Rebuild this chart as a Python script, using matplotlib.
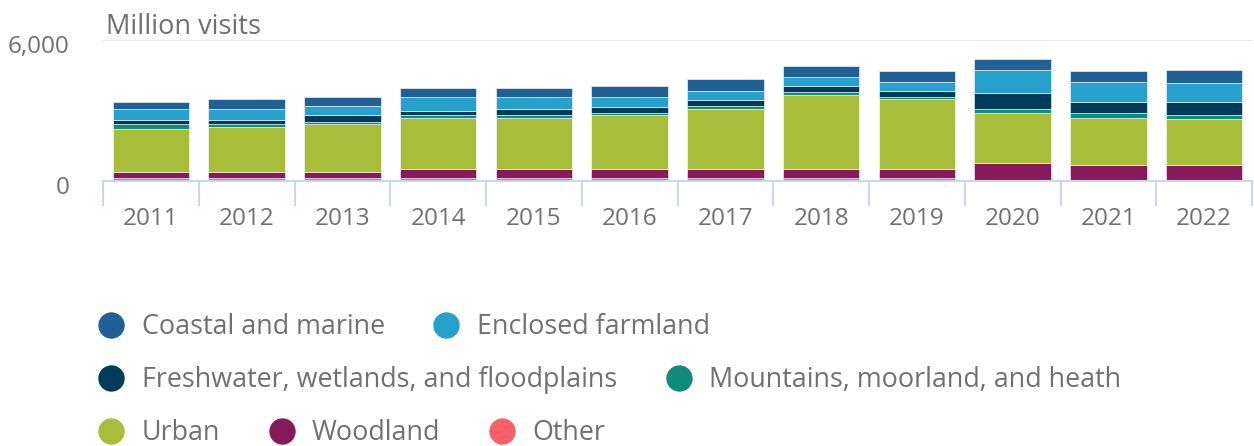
import matplotlib
matplotlib.use("Agg")
import matplotlib.pyplot as plt
import matplotlib.transforms as mtransforms
from matplotlib.lines import Line2D
import numpy as np

plt.rcParams['font.family'] = ['Open Sans', 'DejaVu Sans']

years = ["2011", "2012", "2013", "2014", "2015", "2016",
         "2017", "2018", "2019", "2020", "2021", "2022"]

# values in million visits, bottom to top of stack
other      = [130, 130, 130, 130, 130, 130, 130, 130, 130, 10, 10, 10]
woodland   = [270, 270, 270, 370, 370, 370, 370, 370, 370, 770, 680, 680]
urban      = [1820, 1900, 2020, 2190, 2190, 2305, 2560, 3160, 2975, 2120, 2005, 1940]
mountains  = [200, 115, 85, 130, 130, 100, 130, 115, 100, 185, 200, 185]
freshwater = [170, 170, 285, 160, 255, 255, 270, 270, 270, 655, 470, 555]
enclosed   = [470, 470, 400, 600, 500, 430, 385, 385, 370, 980, 855, 785]
coastal    = [310, 415, 370, 370, 370, 455, 485, 470, 480, 470, 480, 555]

series_names = ["Coastal and marine", "Enclosed farmland",
                "Freshwater, wetlands, and floodplains",
                "Mountains, moorland, and heath", "Urban", "Woodland", "Other"]
series_values = [coastal, enclosed, freshwater, mountains, urban, woodland, other]
series_colors = ["#206095", "#27a0cc", "#003c57", "#118c7b",
                 "#a8bd3a", "#871a5b", "#f66068"]

legend_rows = [[0, 1], [2, 3], [4, 5, 6]]

TEXT = "#707070"
AXIS = "#ccd6eb"
GRID = "#e6e6e6"

W, H = 1254, 446
fig = plt.figure(figsize=(W / 100, H / 100), dpi=100)

x0, x1 = 103, 1252
ybase, ytop = 181, 40
ax = fig.add_axes([x0 / W, 1 - ybase / H, (x1 - x0) / W, (ybase - ytop) / H])

x = np.arange(len(years))
bottom = np.zeros(len(years))
# draw from the bottom of stack (Other) upward
for name, vals, col in reversed(list(zip(series_names, series_values, series_colors))):
    v = np.array(vals, dtype=float)
    ax.bar(x, v, bottom=bottom, width=0.8, color=col, edgecolor="white",
           linewidth=0.4, zorder=3)
    bottom += v

ax.set_xlim(-0.5, len(years) - 0.5)
ax.set_ylim(0, 6000)

ax.set_yticks([0, 6000])
ax.set_yticklabels(["0", "6,000"])
ax.yaxis.grid(True, color=GRID, linewidth=1.5, zorder=0)
ax.set_axisbelow(True)

ax.set_xticks(x)
ax.set_xticklabels(years)
ax.set_xticks(np.arange(-0.5, len(years)), minor=True)
ax.tick_params(axis="x", which="major", length=0, pad=19, labelsize=17.5, labelcolor=TEXT)
ax.tick_params(axis="x", which="minor", length=18, width=1.5, color=AXIS, direction="out")
ax.tick_params(axis="y", which="both", length=0, pad=24, labelsize=17.5, labelcolor=TEXT)

for side in ["left", "right", "top"]:
    ax.spines[side].set_visible(False)
ax.spines["bottom"].set_color(AXIS)
ax.spines["bottom"].set_linewidth(1.5)
ax.spines["bottom"].set_zorder(4)

offset = mtransforms.ScaledTranslation(0, -4 / 100, fig.dpi_scale_trans)
for lab in ax.get_yticklabels():
    lab.set_transform(lab.get_transform() + offset)

fig.text(106 / W, 1 - 34 / H, "Million visits", fontsize=19.5, color=TEXT,
         ha="left", va="baseline")

row_y = [327, 380, 433]
for row, yc in zip(legend_rows, row_y):
    handles = [Line2D([], [], linestyle="none", marker="o", markersize=19,
                      markerfacecolor=series_colors[i], markeredgewidth=0)
               for i in row]
    labels = [series_names[i] for i in row]
    leg = fig.legend(handles, labels, loc="center left",
                     bbox_to_anchor=(98 / W, 1 - yc / H), ncol=len(row),
                     frameon=False, fontsize=19.4, labelcolor=TEXT,
                     handlelength=1.0, handletextpad=0.62, columnspacing=1.79,
                     borderpad=0, borderaxespad=0)

fig.savefig("out.png", dpi=100)
